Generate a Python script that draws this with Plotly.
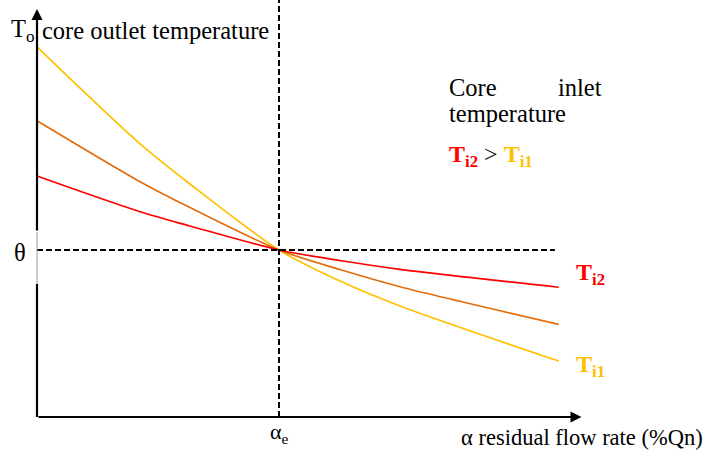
import plotly.graph_objects as go

# ---- data (arbitrary normalised units) ----
alpha = [0, 4.26, 6.32, 10, 12.52, 15, 21.56]          # residual flow rate
t_i2 = [144.3, 122.9, 114.4, 100, 93.7, 88.4, 77.7]     # red curve (Ti2)
t_mid = [177.4, 140.9, 125.4, 100, 88.3, 78.0, 55.5]    # orange curve
t_i1 = [221.6, 163.5, 139.5, 100, 81.4, 66.5, 33.5]     # yellow curve (Ti1)

alpha_e = 10
theta = 100
x_tip = 22.5
y_tip = 244.3
dash_h_end = 21.4
gap_top = 110.8
gap_bottom = 79.6

XR = [-1.529, 27.686]
YR = [-20.96, 249.70]

RED = "#FF0000"
ORANGE = "#E46C0A"
YELLOW = "#FFC000"
FONT = "Liberation Serif"

fig = go.Figure()
for vals, col in [(t_i1, YELLOW), (t_mid, ORANGE), (t_i2, RED)]:
    fig.add_trace(go.Scatter(x=alpha, y=vals, mode="lines",
                             line=dict(color=col, width=1.7, shape="spline", smoothing=0.8),
                             hoverinfo="skip", showlegend=False))

shapes = [
    dict(type="line", x0=alpha_e, x1=alpha_e, y0=0, y1=YR[1], xref="x", yref="y",
         line=dict(color="black", width=2, dash="6px,3px")),
    dict(type="line", x0=0, x1=dash_h_end, y0=theta, y1=theta, xref="x", yref="y",
         line=dict(color="black", width=2, dash="6px,3px")),
    dict(type="line", x0=0, x1=0, y0=0, y1=gap_bottom, xref="x", yref="y",
         line=dict(color="black", width=2.2)),
    dict(type="line", x0=0, x1=0, y0=gap_bottom, y1=gap_top, xref="x", yref="y",
         line=dict(color="#999999", width=1)),
]

ann = [
    dict(x=x_tip, y=0, ax=0, ay=0, axref="x", ayref="y", xref="x", yref="y",
         text="", showarrow=True, arrowhead=2, arrowsize=1, arrowwidth=2.2, arrowcolor="black"),
    dict(x=0, y=y_tip, ax=0, ay=gap_top, axref="x", ayref="y", xref="x", yref="y",
         text="", showarrow=True, arrowhead=2, arrowsize=1, arrowwidth=2.2, arrowcolor="black"),
]

def txt(x, y, s, size=24.5, color="black", xanchor="left", yanchor="middle"):
    ann.append(dict(x=x, y=y, xref="x", yref="y", text=s, showarrow=False,
                    xanchor=xanchor, yanchor=yanchor,
                    font=dict(family=FONT, size=size, color=color)))

def px(x):
    return (x - 37) / 24.2

def py(y):
    return (417 - y) / 1.67

txt(px(37), py(30), "T<sub>o</sub>", xanchor="right")
txt(px(40), py(30), "core outlet temperature")
txt(px(20), py(252), "θ", xanchor="center")
txt(alpha_e, py(433), "α<sub>e</sub>", size=22, xanchor="center")
txt(px(705), py(437), "α residual flow rate (%Qn)", size=22.5, xanchor="right")
txt(px(447), py(87), "Core")
txt(px(604), py(87), "inlet", xanchor="right")
txt(px(447), py(113), "temperature")
txt(px(447), py(156),
    f"<span style='color:{RED}'><b>T<sub>i2</sub></b></span> &gt; "
    f"<span style='color:{YELLOW}'><b>T<sub>i1</sub></b></span>", size=24)
txt(px(574), py(274), "<b>T<sub>i2</sub></b>", color=RED, size=24)
txt(px(574), py(366), "<b>T<sub>i1</sub></b>", color=YELLOW, size=24)

fig.update_layout(
    width=707, height=452,
    margin=dict(l=0, r=0, t=0, b=0, pad=0, autoexpand=False),
    paper_bgcolor="white", plot_bgcolor="white",
    xaxis=dict(range=XR, visible=False, fixedrange=True),
    yaxis=dict(range=YR, visible=False, fixedrange=True),
    shapes=shapes, annotations=ann,
    font=dict(family=FONT),
)

fig.write_html("out.html", config={"displayModeBar": False},
               post_script="document.body.style.margin='0';document.body.style.padding='0';")
